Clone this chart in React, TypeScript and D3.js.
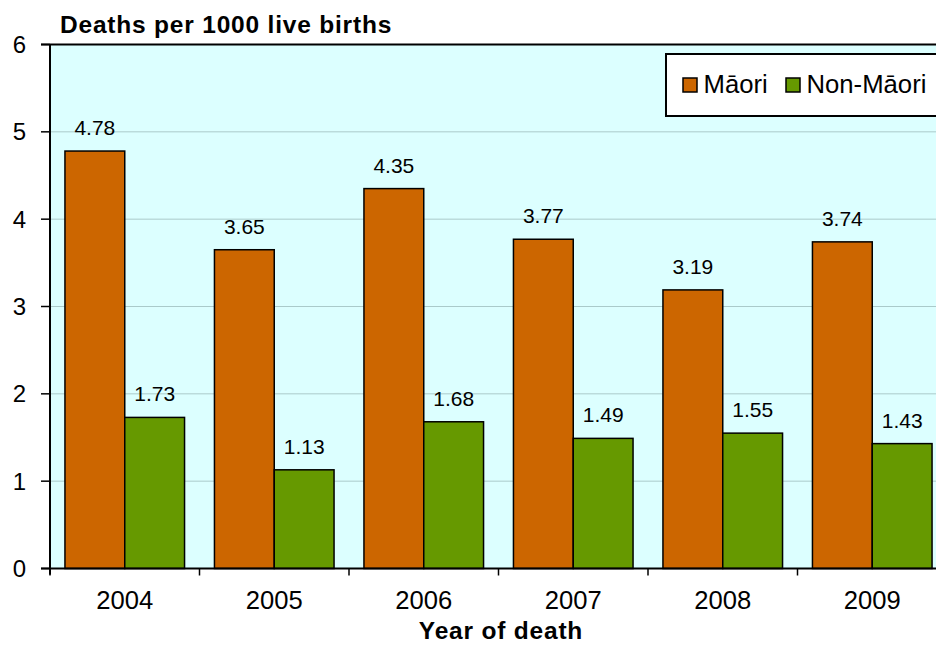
import React from "react";
import * as d3 from "d3";

const years = ["2004", "2005", "2006", "2007", "2008", "2009"];
const maori = [4.78, 3.65, 4.35, 3.77, 3.19, 3.74];
const nonMaori = [1.73, 1.13, 1.68, 1.49, 1.55, 1.43];
const seriesNames = ["Māori", "Non-Māori"];
const yTicks = [0, 1, 2, 3, 4, 5, 6];

const W = 936;
const H = 645;
const left = 50;
const right = 947; // plot runs past the right edge of the picture
const top = 44.5;
const bottom = 568.5;
const FONT = "'Liberation Sans', Arial, sans-serif";
const colors = ["#cc6600", "#669900"];

export default function App() {
  const x = d3.scaleBand<string>().domain(years).range([left, right]).paddingInner(0.2).paddingOuter(0.1);
  const inner = d3.scaleBand<string>().domain(seriesNames).range([0, x.bandwidth()]);
  const step = x.step();
  const y = d3.scaleLinear().domain([0, 6]).range([bottom, top]);
  const values = [maori, nonMaori];
  const fmt = d3.format(".2f");

  return (
    <svg width={W} height={H} style={{ position: "absolute", left: 0, top: 0, fontFamily: FONT }}>
      <rect x={left} y={top} width={right - left} height={bottom - top} fill="#dcffff" />
      {yTicks.slice(1, -1).map((t) => (
        <line key={t} x1={left} x2={right} y1={y(t)} y2={y(t)} stroke="#aacaca" strokeWidth={1} />
      ))}
      {values.map((vals, si) =>
        vals.map((v, i) => {
          const bx = (x(years[i]) ?? 0) + (inner(seriesNames[si]) ?? 0);
          return (
            <g key={si + "-" + i}>
              <rect x={bx} y={y(v)} width={inner.bandwidth()} height={bottom - y(v)}
                fill={colors[si]} stroke="#000" strokeWidth={1.5} />
              <text x={bx + inner.bandwidth() / 2} y={y(v) - 16} textAnchor="middle" fontSize={21} fill="#000">
                {fmt(v)}
              </text>
            </g>
          );
        })
      )}
      {/* axes */}
      <line x1={left - 9} x2={right} y1={top} y2={top} stroke="#000" strokeWidth={2} />
      <line x1={left} x2={left} y1={top} y2={bottom + 6} stroke="#000" strokeWidth={2} />
      <line x1={left - 9} x2={right} y1={bottom} y2={bottom} stroke="#000" strokeWidth={2} />
      {yTicks.map((t) => (
        <g key={t}>
          <line x1={left - 9} x2={left} y1={y(t)} y2={y(t)} stroke="#000" strokeWidth={1.5} />
          <text x={26} y={y(t) + 8.5} textAnchor="end" fontSize={24} fill="#000">{t}</text>
        </g>
      ))}
      {years.map((yr, i) => (
        <g key={yr}>
          <line x1={left + i * step} x2={left + i * step} y1={bottom} y2={bottom + 7} stroke="#000" strokeWidth={1.5} />
          <text x={(x(yr) ?? 0) + x.bandwidth() / 2} y={609} textAnchor="middle" fontSize={25.6} fill="#000">{yr}</text>
        </g>
      ))}
      <text x={60} y={33} fontSize={24.5} fontWeight="bold" letterSpacing={0.8} fill="#000">Deaths per 1000 live births</text>
      <text x={501} y={639} textAnchor="middle" fontSize={24.5} fontWeight="bold" letterSpacing={0.8} fill="#000">Year of death</text>
      {/* legend */}
      <rect x={666} y={54} width={280} height={62} fill="#fff" stroke="#000" strokeWidth={2} />
      {seriesNames.map((n, i) => {
        const lx = i === 0 ? 683 : 786;
        return (
          <g key={n}>
            <rect x={lx} y={78} width={14} height={14} fill={colors[i]} stroke="#000" strokeWidth={1.5} />
            <text x={lx + 20.5} y={93} fontSize={25.7} fill="#000">{n}</text>
          </g>
        );
      })}
    </svg>
  );
}
